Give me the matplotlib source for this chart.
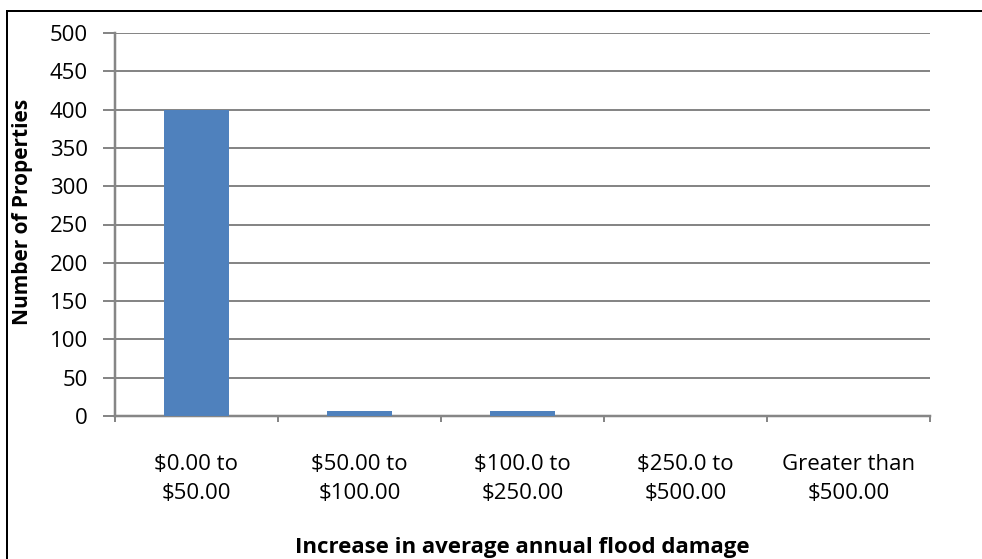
import matplotlib
matplotlib.use("Agg")
import matplotlib.pyplot as plt
from matplotlib.patches import Rectangle

categories = ["$0.00 to\n$50.00", "$50.00 to\n$100.00", "$100.0 to\n$250.00",
              "$250.0 to\n$500.00", "Greater than\n$500.00"]
counts = [400, 6, 6, 0, 0]
y_ticks = [0, 50, 100, 150, 200, 250, 300, 350, 400, 450, 500]

plt.rcParams['font.family'] = ['Open Sans', 'DejaVu Sans']

W, H = 982, 559
PX = 72 / 100  # points per pixel at 100 dpi
fig = plt.figure(figsize=(W / 100, H / 100), dpi=100)
ax = fig.add_axes([115 / W, 1 - 416 / H, (930 - 115) / W, (416 - 33) / H])

x = list(range(len(categories)))
ax.bar(x, counts, width=0.4, color="#4F81BD", zorder=3)

ax.set_xlim(-0.5, len(categories) - 0.5)
ax.set_ylim(0, 500)
ax.set_yticks(y_ticks)
ax.tick_params(axis="y", labelsize=16, length=12 * PX, width=2 * PX,
               color="#868686", pad=15 * PX)
ax.yaxis.grid(True, color="#868686", linewidth=2 * PX, zorder=0)

ax.set_xticks(x)
ax.set_xticklabels(categories, fontsize=16, linespacing=1.5)
ax.tick_params(axis="x", length=0, pad=38 * PX)
# boundary ticks between categories
ax.set_xticks([i - 0.5 for i in range(len(categories) + 1)], minor=True)
ax.tick_params(axis="x", which="minor", length=6 * PX, width=2 * PX, color="#868686")

for side in ["top", "right"]:
    ax.spines[side].set_visible(False)
for side in ["left", "bottom"]:
    ax.spines[side].set_color("#868686")
    ax.spines[side].set_linewidth(2.5 * PX)

fig.text(23 / W, 1 - 212 / H, "Number of Properties", rotation=90,
         ha="center", va="center", fontsize=15, fontweight="bold")
fig.text(522 / W, 1 - 547 / H, "Increase in average annual flood damage",
         ha="center", va="center", fontsize=16, fontweight="bold")

fig.patches.append(Rectangle((7 / W, -0.1), 1.2, 1 - 11 / H + 0.1,
                             transform=fig.transFigure, fill=False,
                             edgecolor="black", linewidth=2 * PX))

fig.savefig("out.png", dpi=100)
